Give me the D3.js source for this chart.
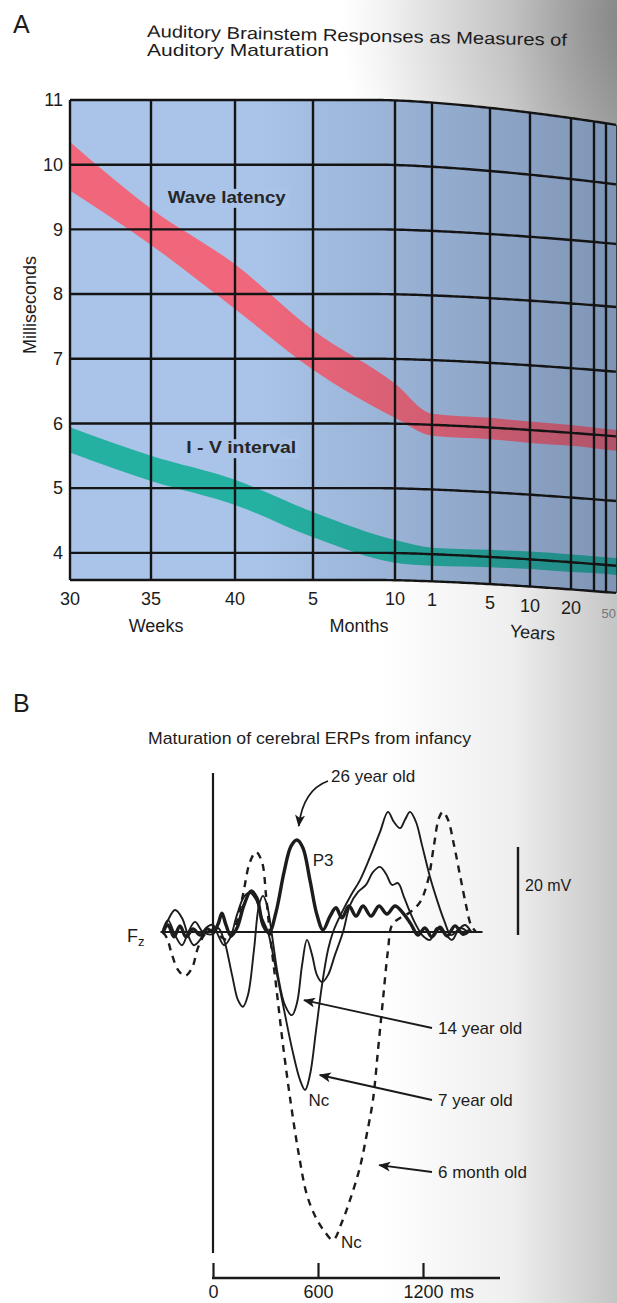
<!DOCTYPE html>
<html>
<head>
<meta charset="utf-8">
<script src="https://cdn.jsdelivr.net/npm/d3@7"></script>
<style>
  body { margin: 0; background: #fff; }
  svg { display: block; font-family: "Liberation Sans", Arial, sans-serif; }
</style>
</head>
<body>
<script>
// ---------- Panel A data: ABR latency vs age ----------
// age axis is a hand-made piecewise axis, so the bands are keyed on gridline index
var ageIndex = [0, 1, 2, 3, 4, 5, 6, 7, 8, 9, 10, 11];
var ageTickText = ["30", "35", "40", "5", "10", "1", "5", "10", "20", "", "", "50"];
var ageUnits = ["Weeks", "Months", "Years"];
var ageUnitAt = [1.06, 3.56, 7.05];
var msTicks = [4, 5, 6, 7, 8, 9, 10, 11];

var waveHigh = [10.35, 9.32, 8.46, 7.44, 6.62, 6.17, 6.15, 6.13, 6.12, 6.11, 6.1, 6.1];
var waveLow  = [9.6, 8.76, 7.77, 6.83, 6.09, 5.83, 5.82, 5.8, 5.8, 5.79, 5.78, 5.78];
var ivHigh   = [5.94, 5.5, 5.13, 4.63, 4.2, 4.1, 4.11, 4.12, 4.12, 4.12, 4.12, 4.12];
var ivLow    = [5.55, 5.11, 4.74, 4.24, 3.85, 3.82, 3.84, 3.85, 3.85, 3.86, 3.86, 3.86];

// ---------- Panel B data: ERP waveforms at Fz, [ms, mV] ----------
var erpTicks = [0, 600, 1200];

var erp26yr = [[-286,0],[-257,1.6],[-223,-1.1],[-189,1.4],[-154,-1.1],[-114,0.7],[-74,-0.7],[-34,0.7],
  [0,0],[29,1.8],[51,4.3],[74,1.6],[103,-0.9],[137,0.9],[177,6.1],[217,9.3],[251,7.7],[286,1.6],
  [320,-0.2],[360,4.5],[406,13.6],[446,19.5],[480,20.9],[514,19.1],[554,11.8],[594,3.9],[629,0.5],
  [669,3.6],[703,5.5],[737,3.2],[777,5.9],[817,3.6],[857,5.9],[903,3.6],[949,5.9],[994,4.1],
  [1040,5.9],[1086,4.3],[1131,1.8],[1171,-0.7],[1211,0.9],[1251,-1.1],[1297,1.1],[1337,-0.9],
  [1383,1.4],[1429,-0.5],[1469,0.5]];

var erp14yr = [[-286,0.5],[-257,2.7],[-217,-0.7],[-177,-3],[-143,-0.2],[-103,2.3],[-57,0],
  [0,-0.5],[29,0.9],[63,-1.8],[109,-9.8],[143,-15.5],[171,-17],[200,-14.3],[234,-4.1],[263,6.1],
  [286,8.2],[309,6.1],[337,-0.7],[371,-9.8],[411,-16.6],[451,-18.9],[480,-16.1],[509,-7.5],
  [537,-1.8],[566,-5.2],[594,-9.8],[623,-11.4],[657,-9.8],[697,-5.2],[743,0],[783,6.1],[829,9.1],
  [874,10.7],[914,13.6],[954,14.8],[989,13.2],[1023,10.7],[1057,11.1],[1091,8],[1126,4.5],
  [1160,1.6],[1200,-0.9],[1240,-1.8],[1280,0.9],[1320,-0.2],[1366,-1.8],[1411,0.9],[1457,0]];

var erp7yr = [[-286,-0.5],[-257,2.7],[-217,5],[-177,3.2],[-143,-0.7],[-109,-3],[-74,-1.8],[-40,0.9],
  [0,1.6],[29,-0.7],[63,-3],[97,-1.4],[137,3.9],[177,8],[211,8.9],[246,7.3],[280,3.2],[314,0],
  [360,-8.6],[406,-17.7],[451,-26.4],[497,-33.6],[526,-35.9],[554,-32.5],[589,-22.3],[623,-12],
  [657,-4.1],[686,0],[737,4.5],[789,8.4],[840,11.8],[897,17],[954,22.7],[1000,27.3],[1034,25],
  [1069,23.6],[1097,25.5],[1126,27.3],[1160,25],[1194,19.8],[1240,12.5],[1280,7.3],[1320,2.7],
  [1360,-0.7],[1400,0.5],[1440,1.6],[1480,-0.2]];

var erp6mo = [[-286,0],[-263,-1.4],[-234,-5.2],[-200,-8.6],[-160,-10],[-120,-8.2],[-86,-3.6],[-46,-0.5],
  [0,0.5],[40,-0.9],[86,-1.8],[131,1.6],[171,8.4],[211,15.9],[246,18.2],[280,15.9],[303,8.4],
  [326,-0.7],[360,-12],[400,-25.7],[446,-39.3],[491,-50.7],[537,-59.8],[589,-65],[640,-68.2],
  [686,-70],[737,-65.9],[783,-60.9],[840,-53.4],[880,-45.7],[914,-38.2],[943,-26.8],[971,-15.5],
  [1000,-4.1],[1023,1.6],[1069,3.2],[1126,4.5],[1183,6.8],[1229,11.8],[1263,19.8],[1291,25.9],
  [1314,27.3],[1343,25.5],[1377,19.8],[1411,13],[1446,6.1],[1474,1.6],[1503,0]];

// ---------- layout ----------
var svgWidth = 617;
var svgHeight = 1303;
var gridX = [70, 151, 235, 313, 395, 432, 490, 530, 571, 594, 606, 617];
var plotBlue = "#a9c4e8";

var svg = d3.select("body")
    .append("svg")
    .attr("width", svgWidth)
    .attr("height", svgHeight);

var defs = svg.append("defs");

// page shadow from the book gutter on the right
var pageShade = defs.append("linearGradient")
    .attr("id", "pageShade")
    .attr("gradientUnits", "userSpaceOnUse")
    .attr("x1", 380).attr("x2", 617).attr("y1", 0).attr("y2", 0);
pageShade.append("stop").attr("offset", 0).attr("stop-color", "#ffffff");
pageShade.append("stop").attr("offset", 0.55).attr("stop-color", "#efefef");
pageShade.append("stop").attr("offset", 1).attr("stop-color", "#c4c4c4");

var cornerShade = defs.append("radialGradient")
    .attr("id", "cornerShade")
    .attr("gradientUnits", "userSpaceOnUse")
    .attr("cx", 640).attr("cy", 20).attr("r", 300);
cornerShade.append("stop").attr("offset", 0).attr("stop-color", "#000").attr("stop-opacity", 0.33);
cornerShade.append("stop").attr("offset", 1).attr("stop-color", "#000").attr("stop-opacity", 0);

var plotShade = defs.append("linearGradient")
    .attr("id", "plotShade")
    .attr("gradientUnits", "userSpaceOnUse")
    .attr("x1", 260).attr("x2", 617).attr("y1", 0).attr("y2", 0);
plotShade.append("stop").attr("offset", 0).attr("stop-color", "#1c2640").attr("stop-opacity", 0);
plotShade.append("stop").attr("offset", 1).attr("stop-color", "#1c2640").attr("stop-opacity", 0.3);

defs.append("marker")
    .attr("id", "arrowHead")
    .attr("markerUnits", "userSpaceOnUse")
    .attr("viewBox", "0 0 12 10")
    .attr("refX", 11).attr("refY", 5)
    .attr("markerWidth", 13).attr("markerHeight", 10)
    .attr("orient", "auto")
    .append("path")
    .attr("d", "M0,0 L12,5 L0,10 L3,5 z")
    .attr("fill", "#1a1a1a");

svg.append("rect").attr("width", svgWidth).attr("height", svgHeight).attr("fill", "url(#pageShade)");
svg.append("rect").attr("width", svgWidth).attr("height", svgHeight).attr("fill", "url(#cornerShade)");

// =============== Panel A ===============
var xA = d3.scaleLinear().domain(ageIndex).range(gridX);
var yA = d3.scaleLinear().domain([3.58, 11]).range([580, 100]);
var yBottom = yA.domain()[0];

// the scanned page is curved: the right side of the grid sags down
function bend(x, y) {
    var t = Math.max(0, (x - 380) / 237);
    var k = 13 + 12 * Math.max(0, Math.min(1, (250 - y) / 150));
    return y + k * Math.pow(t, 1.5);
}

var sampleX = d3.range(gridX[0], gridX[gridX.length - 1] + 0.1, 3);
var lineA = d3.line();

function hPoints(v) {
    return sampleX.map(function (x) { return [x, bend(x, yA(v))]; });
}

var panelA = svg.append("g").attr("class", "panelA");

// plot background
var outline = hPoints(11).concat(hPoints(yBottom).reverse());
panelA.append("path")
    .attr("d", lineA(outline) + "Z")
    .attr("fill", plotBlue);

// bands
function bandArea(high, low) {
    var rows = ageIndex.map(function (i, k) { return { i: i, hi: high[k], lo: low[k] }; });
    return d3.area()
        .x(function (d) { return xA(d.i); })
        .y0(function (d) { return bend(xA(d.i), yA(d.lo)); })
        .y1(function (d) { return bend(xA(d.i), yA(d.hi)); })
        .curve(d3.curveMonotoneX)(rows);
}

panelA.append("path")
    .attr("d", bandArea(waveHigh, waveLow))
    .attr("fill", "#f0677b");

panelA.append("path")
    .attr("d", bandArea(ivHigh, ivLow))
    .attr("fill", "#25b1a2");

// darkening toward the gutter
panelA.append("path")
    .attr("d", lineA(outline) + "Z")
    .attr("fill", "url(#plotShade)");

// grid
var gridG = panelA.append("g")
    .attr("fill", "none")
    .attr("stroke", "#141414");

msTicks.concat([yBottom]).forEach(function (v) {
    gridG.append("path")
        .attr("d", lineA(hPoints(v)))
        .attr("stroke-width", 2.4);
});

ageIndex.forEach(function (i) {
    var x = xA(i);
    gridG.append("line")
        .attr("x1", x).attr("y1", bend(x, yA(11)))
        .attr("x2", x).attr("y2", bend(x, yA(yBottom)))
        .attr("stroke-width", i === 11 ? 1.5 : 2.4);
});

// y axis labels
var leftAxis = d3.axisLeft(yA).tickValues(msTicks).tickSize(0).tickPadding(7);
panelA.append("g")
    .attr("transform", "translate(" + gridX[0] + ",0)")
    .call(leftAxis)
    .call(function (g) { g.select(".domain").remove(); })
    .selectAll("text")
    .attr("font-family", "Liberation Sans, Arial, sans-serif")
    .attr("font-size", 18)
    .attr("fill", "#1c1c1c");

// x axis labels (follow the sag of the page)
panelA.append("g")
    .selectAll("text")
    .data(ageIndex.filter(function (i) { return ageTickText[i] !== ""; }))
    .enter()
    .append("text")
    .attr("x", function (i) { return i === 11 ? 616 : xA(i); })
    .attr("y", function (i) { return bend(xA(i), 605); })
    .attr("text-anchor", function (i) { return i === 11 ? "end" : "middle"; })
    .attr("font-size", function (i) { return i === 11 ? 13 : 18; })
    .attr("fill", function (i) { return i === 11 ? "#777" : "#1c1c1c"; })
    .text(function (i) { return ageTickText[i]; });

panelA.append("g")
    .selectAll("text")
    .data(ageUnits)
    .enter()
    .append("text")
    .attr("transform", function (d, k) {
        var x = xA(ageUnitAt[k]);
        return "translate(" + x + "," + (bend(x, 627) + 5) + ") rotate(" + (k === 2 ? 4 : 0) + ")";
    })
    .attr("text-anchor", "middle")
    .attr("font-size", 18)
    .attr("fill", "#1c1c1c")
    .text(function (d) { return d; });

panelA.append("text")
    .attr("transform", "translate(36,305) rotate(-90)")
    .attr("text-anchor", "middle")
    .attr("font-size", 18)
    .attr("fill", "#1c1c1c")
    .text("Milliseconds");

// band labels sit on a knocked-out patch of the grid
var bandLabels = [
    { text: "Wave latency", at: [1.2, 9.41], width: 118 },
    { text: "I - V interval", at: [1.42, 5.54], width: 110 }
];

bandLabels.forEach(function (d) {
    var x = xA(d.at[0]);
    var y = yA(d.at[1]);
    panelA.append("rect")
        .attr("x", x - 3).attr("y", y - 14)
        .attr("width", d.width + 6).attr("height", 19)
        .attr("fill", plotBlue);
    panelA.append("text")
        .attr("x", x).attr("y", y)
        .attr("font-size", 17)
        .attr("font-weight", "bold")
        .attr("textLength", d.width)
        .attr("lengthAdjust", "spacingAndGlyphs")
        .attr("fill", "#262626")
        .text(d.text);
});

svg.append("text")
    .attr("x", 13).attr("y", 33)
    .attr("font-size", 25)
    .attr("fill", "#1c1c1c")
    .text("A");

svg.append("text")
    .attr("transform", "translate(147,37) rotate(1.2)")
    .attr("font-size", 17)
    .attr("textLength", 420)
    .attr("lengthAdjust", "spacingAndGlyphs")
    .attr("fill", "#1c1c1c")
    .text("Auditory Brainstem Responses as Measures of");

svg.append("text")
    .attr("x", 147).attr("y", 56)
    .attr("font-size", 17)
    .attr("textLength", 182)
    .attr("lengthAdjust", "spacingAndGlyphs")
    .attr("fill", "#1c1c1c")
    .text("Auditory Maturation");

// =============== Panel B ===============
var xB = d3.scaleLinear().domain([0, 1200]).range([213, 423]);
var yB = d3.scaleLinear().domain([0, 20]).range([932, 844]);
var panelB = svg.append("g").attr("class", "panelB");

svg.append("text")
    .attr("x", 13).attr("y", 712)
    .attr("font-size", 25)
    .attr("fill", "#1c1c1c")
    .text("B");

svg.append("text")
    .attr("x", 148).attr("y", 744)
    .attr("font-size", 17)
    .attr("textLength", 323)
    .attr("lengthAdjust", "spacingAndGlyphs")
    .attr("fill", "#1c1c1c")
    .text("Maturation of cerebral ERPs from infancy");

// stimulus onset line
panelB.append("line")
    .attr("x1", xB(0)).attr("x2", xB(0))
    .attr("y1", 773).attr("y2", 1253)
    .attr("stroke", "#1a1a1a")
    .attr("stroke-width", 2.2);

// baseline at Fz
panelB.append("line")
    .attr("x1", xB(-300)).attr("x2", xB(1540))
    .attr("y1", yB(0)).attr("y2", yB(0))
    .attr("stroke", "#1a1a1a")
    .attr("stroke-width", 2.2);

// time axis
var axisY = 1278;
panelB.append("line")
    .attr("x1", xB(0) - 1).attr("x2", 500)
    .attr("y1", axisY).attr("y2", axisY)
    .attr("stroke", "#1a1a1a")
    .attr("stroke-width", 2.4);

var bottomAxis = d3.axisBottom(xB)
    .tickValues(erpTicks)
    .tickFormat(d3.format("d"))
    .tickSize(-15)
    .tickPadding(7);
var axG = panelB.append("g")
    .attr("transform", "translate(0," + axisY + ")")
    .call(bottomAxis);
axG.select(".domain").remove();
axG.selectAll("line").attr("stroke", "#1a1a1a").attr("stroke-width", 2.2);
axG.selectAll("text")
    .attr("font-family", "Liberation Sans, Arial, sans-serif")
    .attr("font-size", 18)
    .attr("fill", "#1c1c1c");
panelB.append("text")
    .attr("x", xB(1200) + 27).attr("y", axisY + 20)
    .attr("font-size", 18)
    .attr("fill", "#1c1c1c")
    .text("ms");

// waveforms
var erpLine = d3.line()
    .x(function (d) { return xB(d[0]); })
    .y(function (d) { return yB(d[1]); })
    .curve(d3.curveCatmullRom.alpha(0.5));

var traces = [
    { data: erp6mo, width: 2.4, dash: "7,6" },
    { data: erp7yr, width: 1.9, dash: null },
    { data: erp14yr, width: 1.9, dash: null },
    { data: erp26yr, width: 3.4, dash: null }
];

panelB.append("g")
    .selectAll("path")
    .data(traces)
    .enter()
    .append("path")
    .attr("d", function (d) { return erpLine(d.data); })
    .attr("fill", "none")
    .attr("stroke", "#1c1c1c")
    .attr("stroke-width", function (d) { return d.width; })
    .attr("stroke-dasharray", function (d) { return d.dash; })
    .attr("stroke-linejoin", "round");

// scale bar
panelB.append("line")
    .attr("x1", 518).attr("x2", 518)
    .attr("y1", yB(0) + 3).attr("y2", yB(20) + 3)
    .attr("stroke", "#1a1a1a")
    .attr("stroke-width", 2.4);
panelB.append("text")
    .attr("x", 525).attr("y", 891)
    .attr("font-size", 16)
    .attr("fill", "#1c1c1c")
    .text("20 mV");

// Fz label
var fz = panelB.append("text")
    .attr("x", 127).attr("y", 942)
    .attr("font-size", 18)
    .attr("fill", "#1c1c1c");
fz.append("tspan").text("F");
fz.append("tspan").attr("font-size", 13).attr("dy", 4).text("z");

// peak labels
panelB.append("text").attr("x", xB(570)).attr("y", 866)
    .attr("font-size", 17).attr("fill", "#1c1c1c").text("P3");
panelB.append("text").attr("x", xB(545)).attr("y", 1106)
    .attr("font-size", 17).attr("fill", "#1c1c1c").text("Nc");
panelB.append("text").attr("x", xB(732)).attr("y", 1248)
    .attr("font-size", 17).attr("fill", "#1c1c1c").text("Nc");

// age labels and arrows
var arrowG = panelB.append("g")
    .attr("fill", "none")
    .attr("stroke", "#1a1a1a")
    .attr("stroke-width", 1.8);

var p26 = d3.path();
p26.moveTo(328, 781);
p26.quadraticCurveTo(303, 790, xB(490), yB(0) - 106);
arrowG.append("path").attr("d", p26.toString()).attr("marker-end", "url(#arrowHead)");

var ageLabels = [
    { text: "14 year old", y: 1034, tip: [520, -15.5] },
    { text: "7 year old", y: 1106, tip: [610, -32.5] },
    { text: "6 month old", y: 1178, tip: [950, -53] }
];

ageLabels.forEach(function (d) {
    arrowG.append("line")
        .attr("x1", 432).attr("y1", d.y - 6)
        .attr("x2", xB(d.tip[0])).attr("y2", yB(d.tip[1]))
        .attr("marker-end", "url(#arrowHead)");
    panelB.append("text")
        .attr("x", 438).attr("y", d.y)
        .attr("font-size", 17)
        .attr("fill", "#1c1c1c")
        .text(d.text);
});

panelB.append("text")
    .attr("x", 331).attr("y", 782)
    .attr("font-size", 17)
    .attr("fill", "#1c1c1c")
    .text("26 year old");
</script>
</body>
</html>
